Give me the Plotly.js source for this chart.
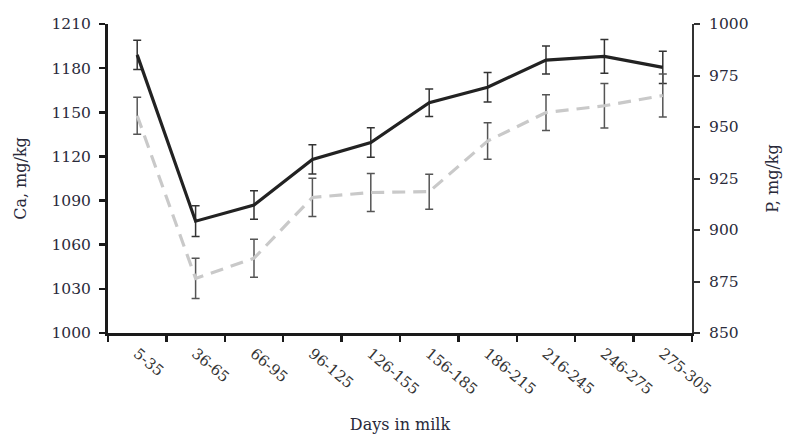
<!DOCTYPE html>
<html>
<head>
<meta charset="utf-8">
<script src="https://cdn.plot.ly/plotly-3.0.1.min.js"></script>
<style>html,body{margin:0;padding:0;background:#fff;}#chart{width:787px;height:434px;}</style>
</head>
<body>
<div id="chart"></div>
<script>
const categories = ["5-35","36-65","66-95","96-125","126-155","156-185","186-215","216-245","246-275","275-305"];
const caValues = [1189, 1076, 1087, 1118, 1129.5, 1156.5, 1167, 1185.5, 1188, 1180.5];
const caErrors = [10, 10.5, 9.7, 10, 10, 9.3, 10, 9.5, 11.5, 11];
const pValues = [955.5, 876.5, 886.3, 915.8, 918.2, 918.6, 943.2, 957, 960.3, 965.3];
const pErrors = [9, 9.8, 9.2, 9.3, 9.2, 8.5, 8.9, 8.7, 10.8, 10.4];
const leftTicks = [1000, 1030, 1060, 1090, 1120, 1150, 1180, 1210];
const rightTicks = [850, 875, 900, 925, 950, 975, 1000];

const font = "DejaVu Serif, Liberation Serif, serif";

const traces = [
  {
    x: categories, y: pValues, yaxis: "y2", type: "scatter", mode: "lines",
    line: {color: "#c9c9c9", width: 3.2, dash: "13px,8px"},
    error_y: {type: "data", array: pErrors, visible: true, color: "#555", thickness: 1.5, width: 4},
    hoverinfo: "skip"
  },
  {
    x: categories, y: caValues, yaxis: "y", type: "scatter", mode: "lines",
    line: {color: "#222", width: 3.2},
    error_y: {type: "data", array: caErrors, visible: true, color: "#333", thickness: 1.5, width: 4},
    hoverinfo: "skip"
  }
];

const layout = {
  width: 787, height: 434,
  margin: {l: 108, r: 95, t: 24, b: 101},
  paper_bgcolor: "#fff", plot_bgcolor: "#fff",
  showlegend: false,
  font: {family: font, size: 15, color: "#2a2a3a"},
  xaxis: {
    type: "category", range: [-0.5, 9.5],
    showline: true, linecolor: "#1a1a1a", linewidth: 3,
    ticks: "outside", tickson: "boundaries", ticklen: 6, tickwidth: 2.5, tickcolor: "#1a1a1a",
    tickangle: 40, showgrid: false, zeroline: false, ticklabelstandoff: 3,
    tickfont: {family: font, size: 15, color: "#333"},
    title: {text: "Days in milk", font: {family: font, size: 16, color: "#2a2a3a"}, standoff: 24}
  },
  yaxis: {
    range: [1000, 1210], tickvals: leftTicks, ticktext: leftTicks.map(String),
    showline: true, linecolor: "#1a1a1a", linewidth: 3,
    ticks: "outside", ticklen: 6, tickwidth: 2.5, tickcolor: "#1a1a1a",
    showgrid: false, zeroline: false, ticklabelstandoff: 5,
    tickfont: {family: font, size: 15.5, color: "#2a2a3a"},
    title: {text: "Ca, mg/kg", font: {family: font, size: 16, color: "#2a2a3a"}, standoff: 21}
  },
  yaxis2: {
    range: [850, 1000], tickvals: rightTicks, ticktext: rightTicks.map(String),
    overlaying: "y", side: "right",
    showline: true, linecolor: "#333", linewidth: 2,
    ticks: "outside", ticklen: 6, tickwidth: 2, tickcolor: "#333",
    showgrid: false, zeroline: false, ticklabelstandoff: 6,
    tickfont: {family: font, size: 15.5, color: "#2a2a3a"},
    title: {text: "P, mg/kg", font: {family: font, size: 16, color: "#2a2a3a"}, standoff: 19}
  }
};

Plotly.newPlot("chart", traces, layout, {displayModeBar: false, staticPlot: true});
</script>
</body>
</html>
